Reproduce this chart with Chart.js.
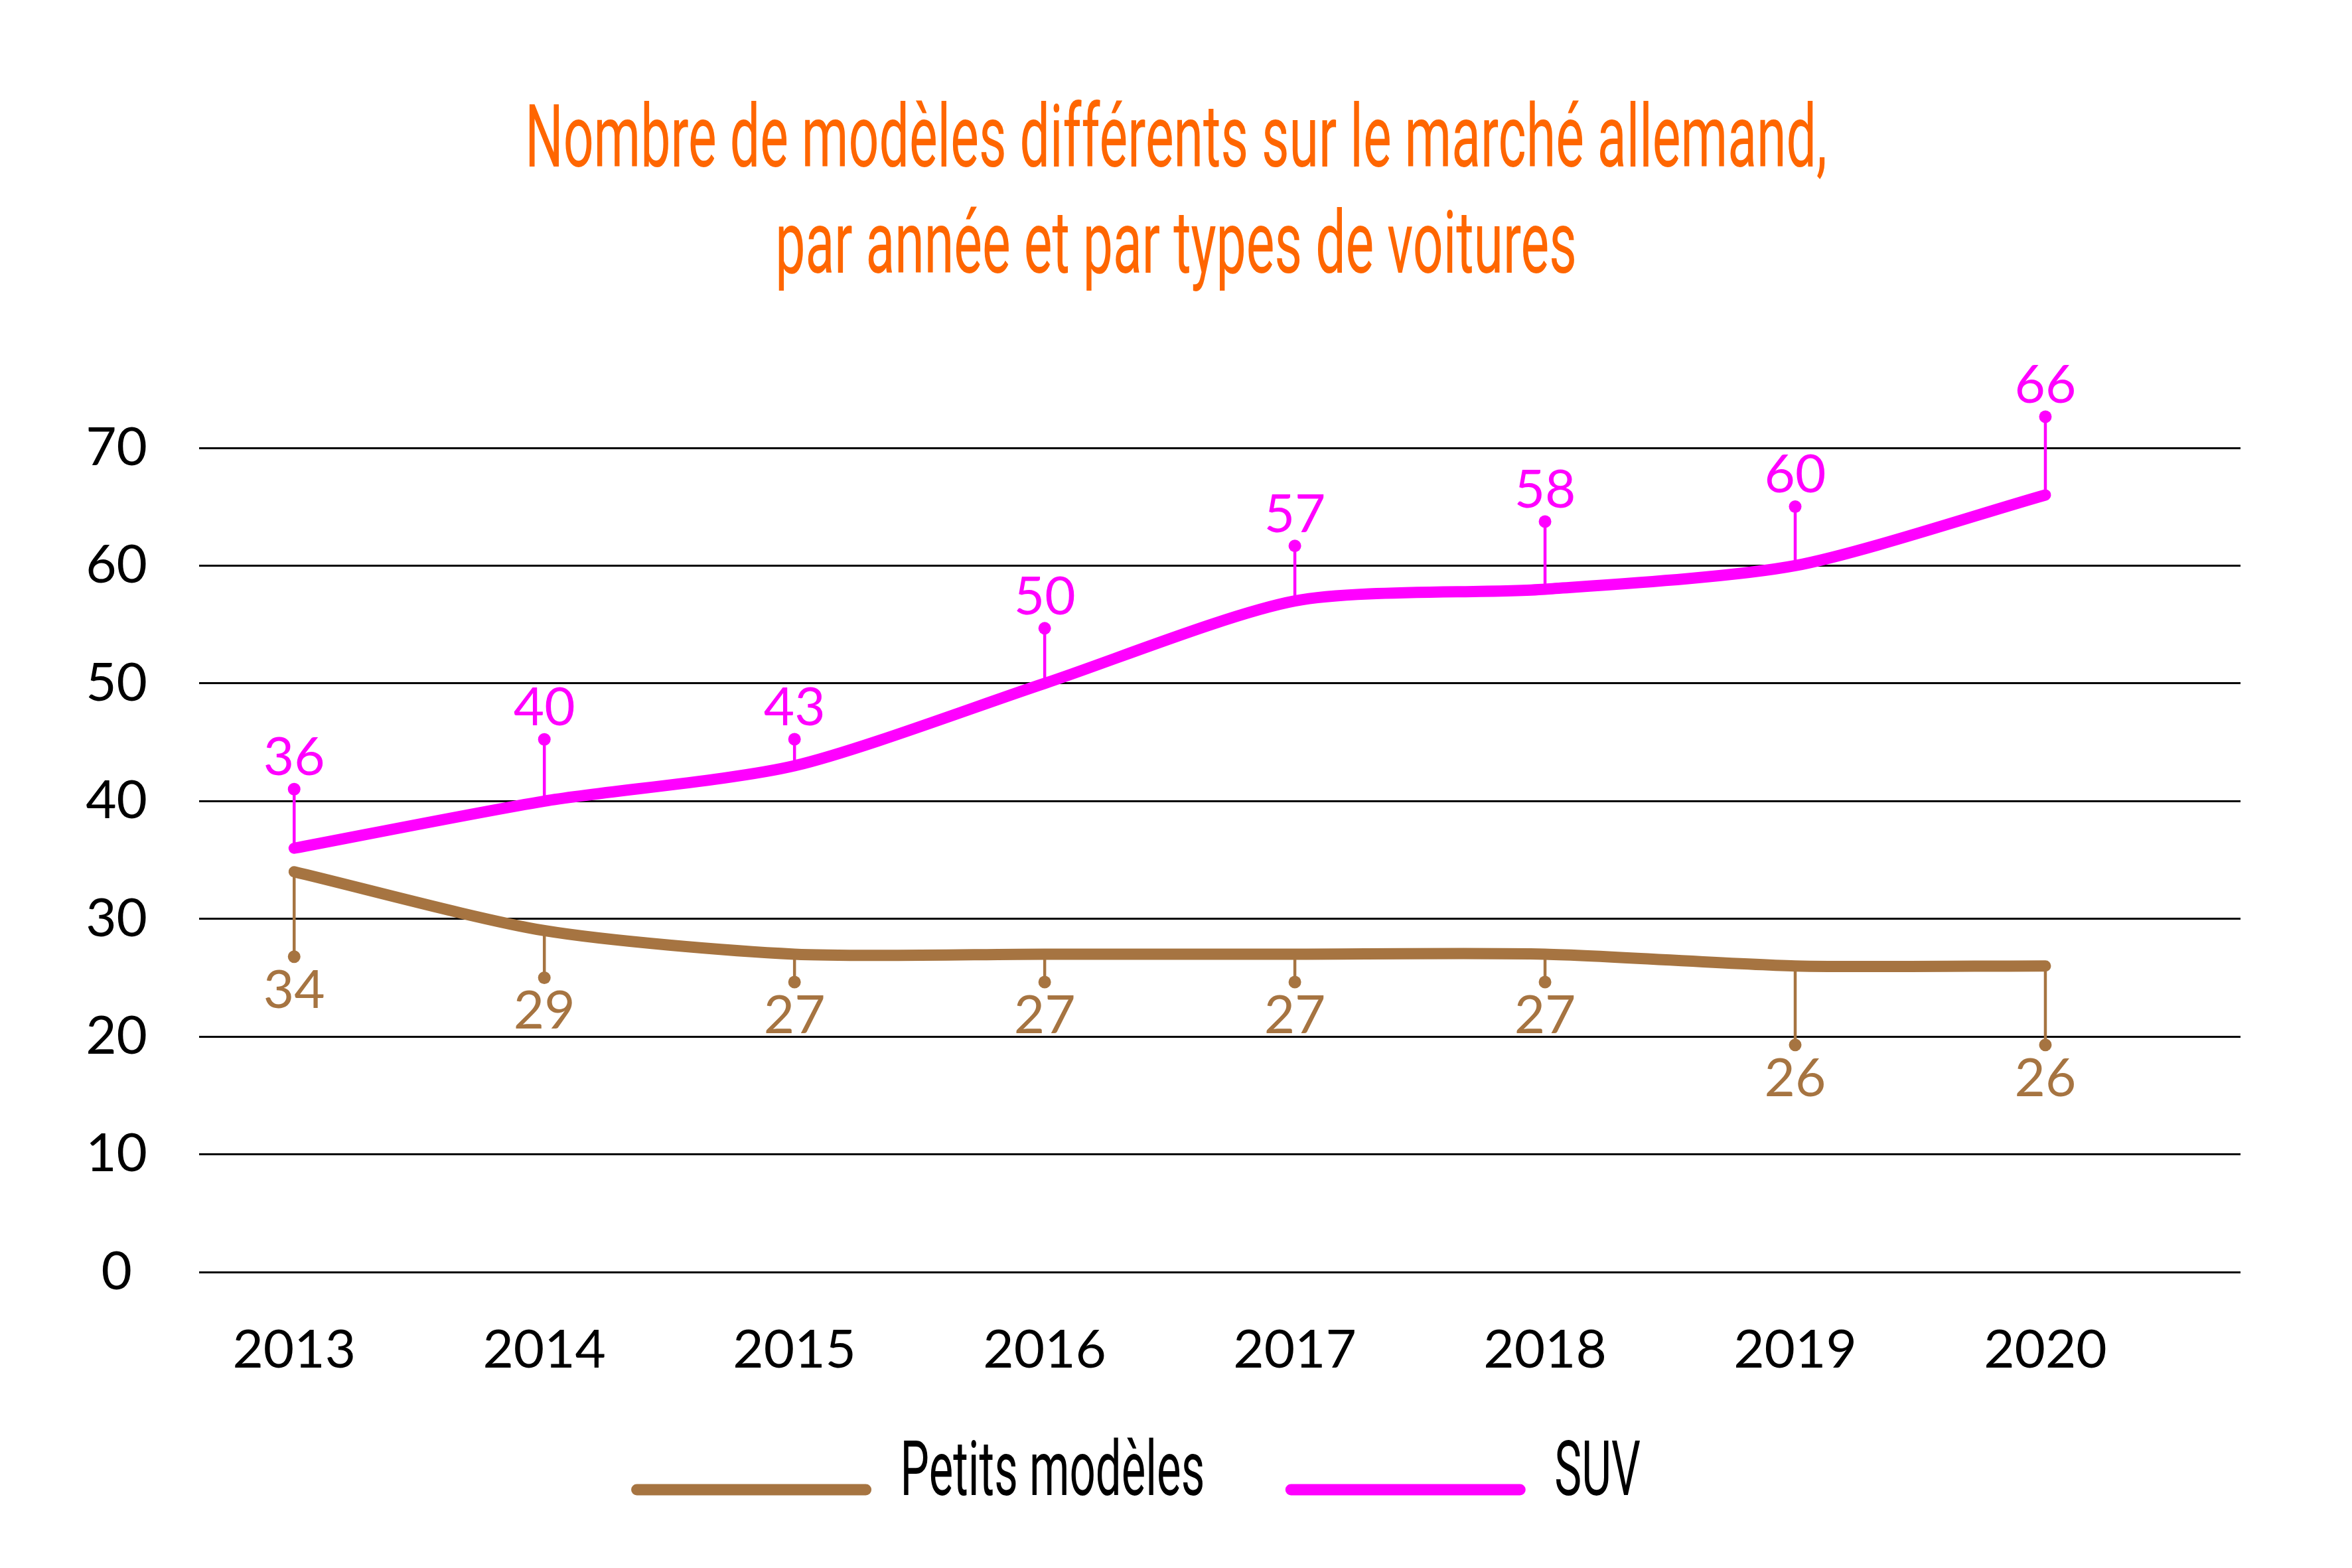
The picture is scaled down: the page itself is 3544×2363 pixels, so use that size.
<!DOCTYPE html>
<html>
<head>
<meta charset="utf-8">
<script src="https://cdn.jsdelivr.net/npm/chart.js@4.4.1/dist/chart.umd.min.js"></script>
<style>
  html, body { margin: 0; padding: 0; background: #fff; }
  canvas { display: block; }
</style>
</head>
<body>
<canvas id="chart" width="3544" height="2363" style="width:3544px;height:2363px"></canvas>
<script>
const years = [2013, 2014, 2015, 2016, 2017, 2018, 2019, 2020]
const petitsModeles = [34, 29, 27, 27, 27, 27, 26, 26]
const suv = [36, 40, 43, 50, 57, 58, 60, 66]
const yTickValues = [0, 10, 20, 30, 40, 50, 60, 70]
const titleLines = ['Nombre de modèles différents sur le marché allemand,', 'par année et par types de voitures']

const BROWN = '#a67441'
const PINK = '#ff00ff'
const ORANGE = '#ff6600'

// squeeze text horizontally, the original uses a very narrow typeface
function narrowText(ctx, text, x, y, sx, align) {
  ctx.save()
  ctx.translate(x, y)
  ctx.scale(sx, 1)
  ctx.textAlign = align
  ctx.fillText(text, 0, 0)
  ctx.restore()
}

const leaders = {
  id: 'leaders',
  beforeDatasetsDraw(chart, args, opts) {
    const ctx = chart.ctx
    chart.data.datasets.forEach((ds, i) => {
      const conf = opts.sets[i]
      const meta = chart.getDatasetMeta(i)
      ctx.save()
      ctx.strokeStyle = ds.borderColor
      ctx.fillStyle = ds.borderColor
      ctx.lineWidth = 4.5
      meta.data.forEach((pt, j) => {
        const end = pt.y + conf.dir * conf.lengths[j]
        ctx.beginPath()
        ctx.moveTo(pt.x, pt.y)
        ctx.lineTo(pt.x, end)
        ctx.stroke()
        ctx.beginPath()
        ctx.arc(pt.x, end, 9.5, 0, Math.PI * 2)
        ctx.fill()
      })
      ctx.restore()
    })
  },
  afterDatasetsDraw(chart, args, opts) {
    const ctx = chart.ctx
    chart.data.datasets.forEach((ds, i) => {
      const conf = opts.sets[i]
      const meta = chart.getDatasetMeta(i)
      ctx.save()
      ctx.fillStyle = ds.borderColor
      ctx.font = '400 80px Lato'
      ctx.textAlign = 'center'
      ctx.textBaseline = 'alphabetic'
      meta.data.forEach((pt, j) => {
        const end = pt.y + conf.dir * conf.lengths[j]
        const y = conf.dir < 0 ? end - 21 : end + 77
        ctx.fillText(String(ds.data[j].y), pt.x, y)
      })
      ctx.restore()
    })
  }
}

const titleAndLegend = {
  id: 'titleAndLegend',
  afterDraw(chart) {
    const ctx = chart.ctx
    const cx = chart.width / 2
    ctx.save()
    ctx.fillStyle = ORANGE
    ctx.font = '400 131px Roboto'
    ctx.textBaseline = 'alphabetic'
    narrowText(ctx, titleLines[0], cx, 251, 0.615, 'center')
    narrowText(ctx, titleLines[1], cx, 411, 0.615, 'center')

    // legend
    ctx.font = '400 115px Roboto'
    const sw = 361, gapText = 44, gapItem = 122, sx = 0.6
    const items = chart.data.datasets.map(ds => ({
      label: ds.label, color: ds.borderColor,
      w: sw + gapText + ctx.measureText(ds.label).width * sx
    }))
    const total = items.reduce((a, it) => a + it.w, 0) + gapItem * (items.length - 1)
    let x = chart.width * 0.483 - total / 2
    items.forEach(it => {
      ctx.strokeStyle = it.color
      ctx.lineWidth = 17
      ctx.lineCap = 'round'
      ctx.beginPath()
      ctx.moveTo(x + 8, 2245)
      ctx.lineTo(x + sw - 8, 2245)
      ctx.stroke()
      ctx.fillStyle = '#000'
      narrowText(ctx, it.label, x + sw + gapText, 2253, sx, 'left')
      x += it.w + gapItem
    })
    ctx.restore()
  }
}

Chart.defaults.font.family = 'Lato'
Chart.defaults.color = '#000'

new Chart(document.getElementById('chart').getContext('2d'), {
  type: 'line',
  data: {
    datasets: [
      {
        label: 'Petits modèles',
        data: years.map((y, i) => ({ x: y, y: petitsModeles[i] })),
        borderColor: BROWN,
        borderWidth: 17,
        tension: 0.25,
        borderCapStyle: 'round',
        borderJoinStyle: 'round',
        pointRadius: 0,
        fill: false
      },
      {
        label: 'SUV',
        data: years.map((y, i) => ({ x: y, y: suv[i] })),
        borderColor: PINK,
        borderWidth: 17,
        tension: 0.25,
        borderCapStyle: 'round',
        borderJoinStyle: 'round',
        pointRadius: 0,
        fill: false
      }
    ]
  },
  options: {
    responsive: false,
    devicePixelRatio: 1,
    animation: false,
    layout: { padding: { top: 675, right: 168, left: 0, bottom: 0 } },
    plugins: {
      legend: { display: false },
      title: { display: false },
      tooltip: { enabled: false },
      leaders: {
        sets: [
          { dir: 1, lengths: [128, 71, 42, 42, 42, 42, 119, 119] },
          { dir: -1, lengths: [89, 93, 40, 83, 83, 102, 89, 118] }
        ]
      }
    },
    scales: {
      x: {
        type: 'linear',
        min: 2012.62,
        max: 2020.78,
        afterFit: s => { s.height = 446 },
        afterBuildTicks: s => { s.ticks = years.map(v => ({ value: v })) },
        grid: { display: false, drawTicks: false },
        border: { display: false },
        ticks: {
          padding: 70,
          font: { size: 80 },
          callback: v => String(v)
        }
      },
      y: {
        min: 0,
        max: 70,
        afterFit: s => { s.width = 300 },
        afterBuildTicks: s => { s.ticks = yTickValues.map(v => ({ value: v })) },
        grid: { color: '#000', lineWidth: 3, drawTicks: false },
        border: { display: false },
        ticks: {
          padding: 78,
          crossAlign: 'center',
          font: { size: 80 }
        }
      }
    }
  },
  plugins: [leaders, titleAndLegend]
})
</script>
</body>
</html>
